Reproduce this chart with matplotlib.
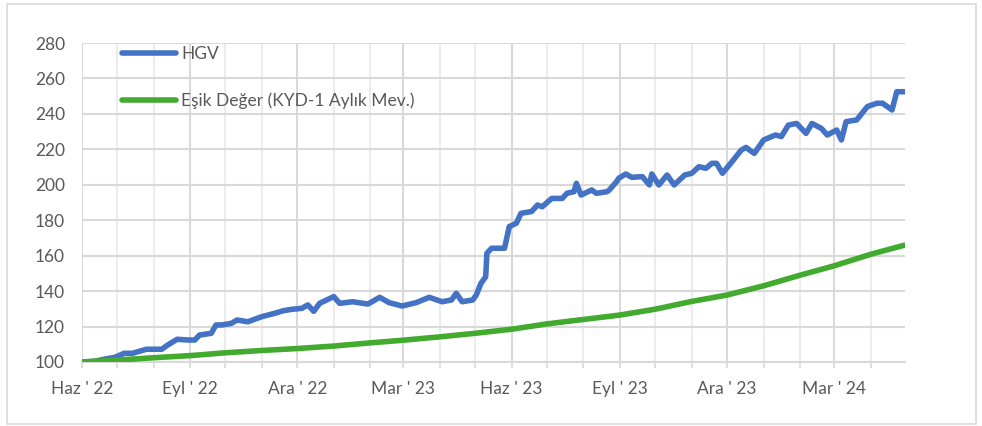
import matplotlib
matplotlib.use("Agg")
import matplotlib.pyplot as plt
import matplotlib.dates as mdates
import pandas as pd
from matplotlib.patches import Rectangle

# ---- data -----------------------------------------------------------
hgv_dates = ["2022-06-01", "2022-06-12", "2022-06-21", "2022-06-29", "2022-07-07", "2022-07-14",
             "2022-07-26", "2022-08-08", "2022-08-13", "2022-08-21", "2022-08-31", "2022-09-05",
             "2022-09-09", "2022-09-19", "2022-09-23", "2022-09-28", "2022-10-06", "2022-10-11",
             "2022-10-20", "2022-11-01", "2022-11-12", "2022-11-19", "2022-11-26", "2022-12-05",
             "2022-12-10", "2022-12-15", "2022-12-20", "2023-01-01", "2023-01-06", "2023-01-17",
             "2023-01-30", "2023-02-09", "2023-02-17", "2023-02-28", "2023-03-12", "2023-03-23",
             "2023-04-03", "2023-04-11", "2023-04-15", "2023-04-20", "2023-04-29", "2023-05-02",
             "2023-05-06", "2023-05-10", "2023-05-11", "2023-05-15", "2023-05-26", "2023-05-30",
             "2023-06-05", "2023-06-09", "2023-06-18", "2023-06-23", "2023-06-27", "2023-07-05",
             "2023-07-14", "2023-07-18", "2023-07-24", "2023-07-26", "2023-07-30", "2023-08-08",
             "2023-08-12", "2023-08-21", "2023-08-23", "2023-08-29", "2023-08-31", "2023-09-06",
             "2023-09-11", "2023-09-20", "2023-09-26", "2023-09-28", "2023-10-04", "2023-10-11",
             "2023-10-17", "2023-10-26", "2023-11-01", "2023-11-07", "2023-11-13", "2023-11-18",
             "2023-11-22", "2023-11-27", "2023-12-04", "2023-12-13", "2023-12-17", "2023-12-24",
             "2024-01-01", "2024-01-11", "2024-01-16", "2024-01-22", "2024-01-29", "2024-02-06",
             "2024-02-11", "2024-02-19", "2024-02-24", "2024-03-03", "2024-03-07", "2024-03-11",
             "2024-03-20", "2024-03-29", "2024-04-06", "2024-04-11", "2024-04-19", "2024-04-23",
             "2024-04-30"]
hgv_values = [100.0, 100.4, 101.7, 102.6, 104.9, 104.9,
              107.2, 107.2, 109.6, 112.8, 112.4, 112.4,
              115.2, 116.2, 120.9, 120.9, 121.8, 123.7,
              122.7, 125.6, 127.5, 128.9, 129.7, 130.3,
              132.2, 128.6, 133.1, 136.9, 133.1, 134.0,
              132.7, 136.5, 133.5, 131.6, 133.5, 136.5,
              134.0, 135.0, 138.8, 134.0, 135.0, 137.8,
              144.4, 148.1, 161.3, 164.2, 164.2, 176.4,
              178.3, 183.9, 184.9, 188.6, 187.6, 192.3,
              192.3, 195.2, 196.1, 200.8, 194.2, 197.1,
              195.2, 196.1, 197.1, 201.7, 203.7, 206.1,
              204.2, 204.6, 199.9, 206.1, 199.9, 205.5,
              199.9, 205.5, 206.5, 210.2, 209.3, 212.1,
              212.1, 206.5, 212.1, 219.6, 221.1, 217.7,
              225.3, 228.1, 227.2, 233.7, 234.6, 229.0,
              234.6, 231.8, 228.1, 230.9, 225.3, 235.6,
              236.6, 244.1, 246.0, 246.0, 242.2, 252.5,
              252.5]

esik_dates = ["2022-06-01", "2022-07-01", "2022-08-01", "2022-09-01", "2022-10-01", "2022-11-01",
              "2022-12-01", "2023-01-01", "2023-02-01", "2023-03-01", "2023-04-01", "2023-05-01",
              "2023-06-01", "2023-07-01", "2023-08-01", "2023-09-01", "2023-10-01", "2023-11-01",
              "2023-12-01", "2024-01-01", "2024-02-01", "2024-03-01", "2024-04-01", "2024-04-30"]
esik_values = [100.0, 101.1, 102.4, 103.6, 105.2, 106.5,
               107.6, 109.0, 110.8, 112.3, 114.2, 116.2,
               118.5, 121.5, 124.0, 126.5, 129.8, 134.2,
               137.8, 143.0, 149.0, 154.3, 160.8, 166.0]

y_ticks = [100, 120, 140, 160, 180, 200, 220, 240, 260, 280]
x_labels = ["Haz ' 22", "Eyl ' 22", "Ara ' 22", "Mar ' 23", "Haz ' 23", "Eyl ' 23", "Ara ' 23", "Mar ' 24"]
x_label_dates = ["2022-06-01", "2022-09-01", "2022-12-01", "2023-03-01", "2023-06-01",
                 "2023-09-01", "2023-12-01", "2024-03-01"]
series_names = ["HGV", "Eşik Değer (KYD-1 Aylık Mev.)"]

# ---- figure ---------------------------------------------------------
plt.rcParams['font.family'] = ['Lato', 'DejaVu Sans']
W, H = 982, 426
fig = plt.figure(figsize=(W / 100, H / 100), dpi=100)
fig.patches.append(Rectangle((7 / W, 2 / H), 969 / W, 420 / H, transform=fig.transFigure,
                             fill=False, edgecolor='#d9d9d9', linewidth=1.2))

ax = fig.add_axes([81.7 / W, 1 - 362 / H, (905 - 81.7) / W, (362 - 43) / H])

hd = pd.to_datetime(hgv_dates)
ed = pd.to_datetime(esik_dates)
blue = '#4472C4'
green = '#42AA2E'
ax.plot(hd, hgv_values, color=blue, lw=4.0, solid_joinstyle='round', solid_capstyle='round',
        label=series_names[0], zorder=3)
ax.plot(ed, esik_values, color=green, lw=4.0, solid_joinstyle='round', solid_capstyle='round',
        label=series_names[1], zorder=4)

ax.set_ylim(100, 280)
ax.set_yticks(y_ticks)
ax.set_xlim(pd.Timestamp("2022-06-01"), pd.Timestamp("2024-04-30"))

ax.set_xticks(pd.to_datetime(x_label_dates))
ax.set_xticklabels(x_labels)
ax.xaxis.set_minor_locator(mdates.MonthLocator())

for s in ['left', 'right', 'top']:
    ax.spines[s].set_visible(False)
ax.spines['bottom'].set_color('#d9d9d9')
ax.spines['bottom'].set_linewidth(1.5)

ax.grid(axis='y', color='#d9d9d9', lw=1.5, zorder=0)
ax.grid(axis='x', which='major', color='#d9d9d9', lw=1.5, zorder=0)
ax.grid(axis='x', which='minor', color='#ececec', lw=1.5, zorder=0)
ax.set_axisbelow(True)

ax.tick_params(axis='y', length=0, pad=12, labelsize=12.5, labelcolor='#595959')
ax.tick_params(axis='x', which='major', length=4, width=1.2, color='#d9d9d9', pad=10,
               labelsize=12.5, labelcolor='#595959')
ax.tick_params(axis='x', which='minor', length=4, width=1.2, color='#d9d9d9')

leg = ax.legend(loc='upper left', bbox_to_anchor=((122 - 81.7) / 823.3, (362 - 46) / 319),
                frameon=False, fontsize=12.5, handlelength=3.1, handletextpad=0.3,
                labelspacing=1.75, borderpad=0, borderaxespad=0)
for t in leg.get_texts():
    t.set_color('#595959')

fig.savefig("out.png", dpi=100)
